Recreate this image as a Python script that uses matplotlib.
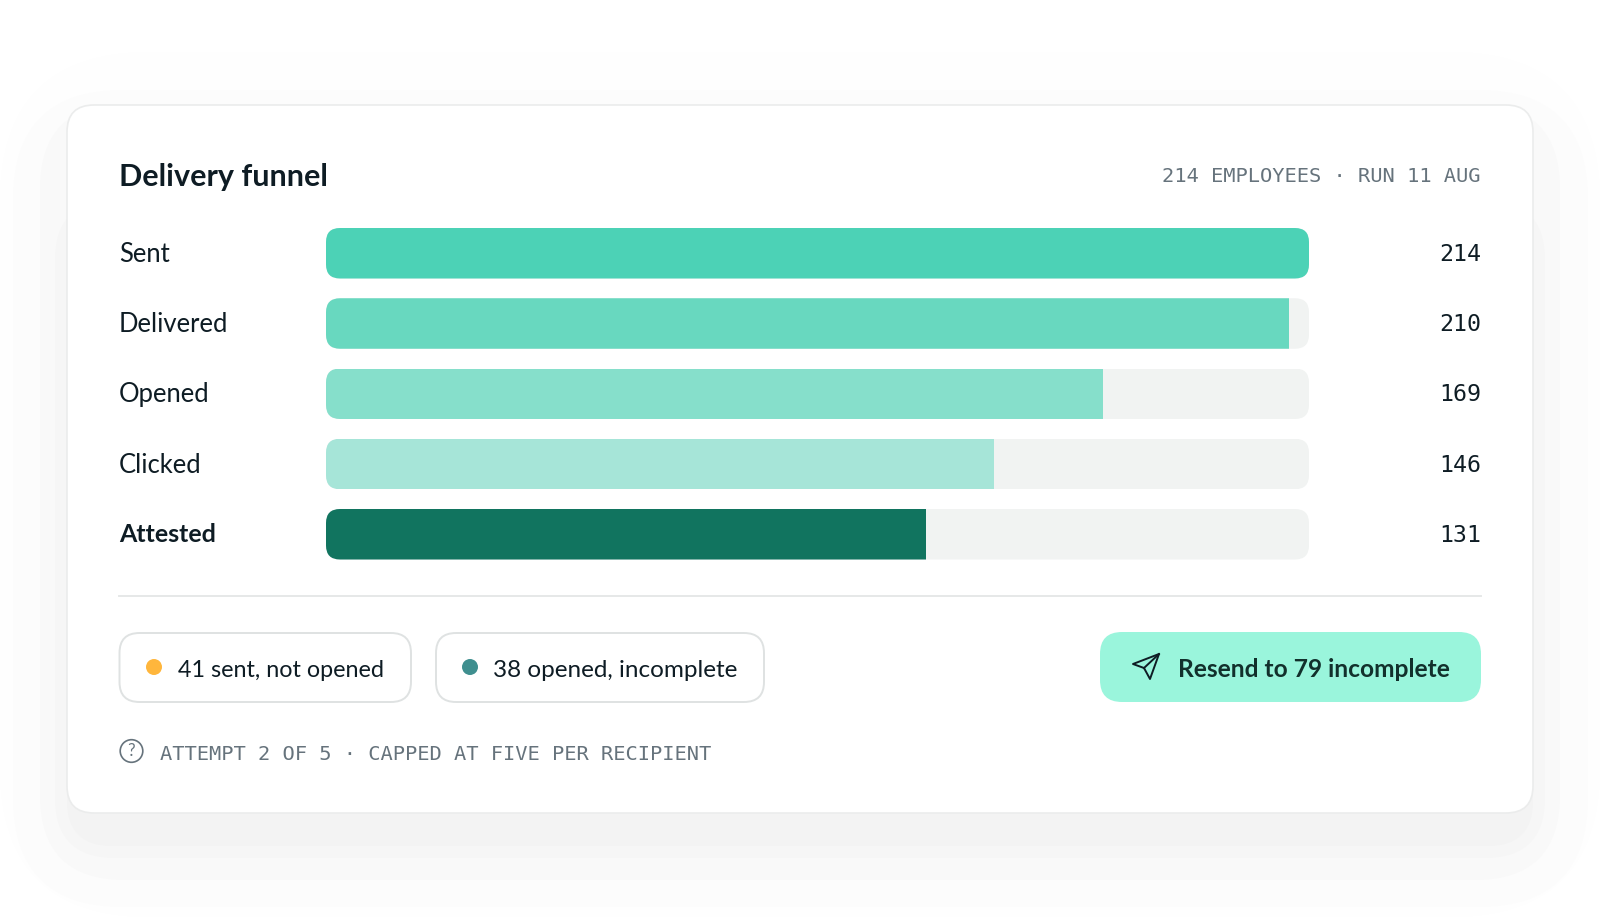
import matplotlib
matplotlib.use("Agg")
import matplotlib.pyplot as plt
from matplotlib.patches import FancyBboxPatch, Circle, Polygon
from matplotlib.transforms import ScaledTranslation

stages = ["Sent", "Delivered", "Opened", "Clicked", "Attested"]
counts = [214, 210, 169, 146, 131]
share_pct = [100, 98, 79, 68, 61]
colors = ["#4CD2B6", "#68D8BF", "#86DFCB", "#A6E5D8", "#11745F"]
title = "Delivery funnel"
meta = "214 EMPLOYEES · RUN 11 AUG"
pills = ["41 sent, not opened", "38 opened, incomplete"]
pill_dots = ["#FFB63C", "#3F8F8F"]
button = "Resend to 79 incomplete"
footer = "ATTEMPT 2 OF 5 · CAPPED AT FIVE PER RECIPIENT"

W, H = 1600, 917
INK = "#0E1C24"
GRAY = "#66737C"
SANS = "Lato"
MONO = "DejaVu Sans Mono"
PX = 0.72  # points per pixel at dpi 100

fig = plt.figure(figsize=(W / 100, H / 100), dpi=100, facecolor="white")
ov = fig.add_axes([0, 0, 1, 1], zorder=0)
ov.set_xlim(0, W)
ov.set_ylim(H, 0)
ov.axis("off")


def rbox(x0, y0, x1, y1, r, fc, ec="none", lw=0, z=1):
    p = FancyBboxPatch((x0 + r, y0 + r), x1 - x0 - 2 * r, y1 - y0 - 2 * r,
                       boxstyle=f"round,pad={r},rounding_size={r}",
                       fc=fc, ec=ec, lw=lw, zorder=z, transform=ov.transData)
    ov.add_patch(p)
    return p


# soft stepped shadow around the card
rbox(0, 52, 1600, 917, 150, "#FEFEFE")
rbox(13, 90, 1588, 907, 110, "#FCFCFC")
rbox(40, 104, 1560, 880, 85, "#F9F9F9")
rbox(55, 200, 1545, 858, 60, "#F6F6F6")
rbox(67, 300, 1533, 846, 45, "#F3F3F3")
rbox(67, 105, 1533, 813, 27, "white", ec="#EBECEC", lw=1.2, z=2)

ov.text(119, 177, title, fontsize=30.5 * PX, fontweight="bold", family=SANS,
        color=INK, va="center", zorder=3)
ov.text(1481, 176, meta, fontsize=20.4 * PX, family=MONO, color=GRAY,
        ha="right", va="center", zorder=3)

# bars
ax = fig.add_axes([326 / W, 1 - 559.5 / H, 983 / W, 331.5 / H], zorder=1)
ax.patch.set_alpha(0)
half = 25.25 / 70.25
ax.set_xlim(0, 100)
ax.set_ylim(len(stages) - 1 + half, -half)
for s in ax.spines.values():
    s.set_visible(False)
ax.set_xticks([])
ax.set_yticks(range(len(stages)))
ax.set_yticklabels(stages, ha="left", family=SANS, fontsize=25.6 * PX, color=INK)
ax.tick_params(axis="y", length=0, pad=207 * PX)
shift = ScaledTranslation(0, 1.5 / 100, fig.dpi_scale_trans)
for lab in ax.get_yticklabels():
    lab.set_transform(lab.get_transform() + shift)
ax.get_yticklabels()[-1].set_fontweight("bold")
ax.get_yticklabels()[-1].set_fontsize(25 * PX)

fig.canvas.draw()
inv = ov.transData.inverted()
for i, (n, pct, c) in enumerate(zip(counts, share_pct, colors)):
    track = ax.barh(i, 100, height=2 * half, color="#F1F3F2", zorder=1)[0]
    bar = ax.barh(i, pct, height=2 * half, color=c, zorder=2)[0]
    (x0, y0), (x1, y1) = inv.transform(ax.transData.transform([(0, i - half), (100, i + half)]))
    clip = FancyBboxPatch((x0 + 14, y0 + 14), x1 - x0 - 28, y1 - y0 - 28,
                          boxstyle="round,pad=14,rounding_size=14", transform=ov.transData)
    track.set_clip_path(clip)
    bar.set_clip_path(clip)
    ax.annotate(str(n), xy=(1, i), xycoords=("axes fraction", "data"),
                xytext=(172 * PX, -1 * PX), textcoords="offset points", ha="right", va="center",
                family=MONO, fontsize=23.3 * PX, color=INK)

# divider
ov.plot([119, 1481], [596, 596], color="#E6E8E8", lw=1.4, zorder=3)

# pills
rbox(119.5, 633, 411, 702, 20, "white", ec="#DFE2E2", lw=1.4, z=3)
rbox(436, 633, 764, 702, 20, "white", ec="#DFE2E2", lw=1.4, z=3)
for cx, tx, col, lab, fs in zip([154, 470], [177.5, 493], pill_dots, pills, [23.4, 24.2]):
    ov.add_patch(Circle((cx, 667), 8, fc=col, ec="none", zorder=4))
    ov.text(tx, 670.5, lab, family=SANS, fontsize=fs * PX, color=INK, va="center", zorder=4)

# button
rbox(1100, 632, 1481, 702, 22, "#9AF5DC", z=3)
ov.add_patch(Polygon([(1159, 654), (1133, 664), (1144, 668), (1150, 679)], closed=True,
                     fc="none", ec=INK, lw=1.4, joinstyle="round", zorder=4))
ov.plot([1159, 1144], [654, 668], color=INK, lw=1.4, zorder=4)
ov.text(1178, 669.5, button, family=SANS, fontweight="bold", fontsize=24.5 * PX, color="#12302C",
        va="center", zorder=4)

# footer
ov.add_patch(Circle((131.5, 751), 11.3, fc="none", ec=GRAY, lw=1.2, zorder=4))
ov.text(131.5, 751, "?", family=SANS, fontsize=17 * PX, color=GRAY, ha="center", va="center", zorder=4)
ov.text(160, 754, footer, family=MONO, fontsize=20.4 * PX, color=GRAY, va="center", zorder=4)

fig.savefig("out.png", dpi=100, facecolor="white")
